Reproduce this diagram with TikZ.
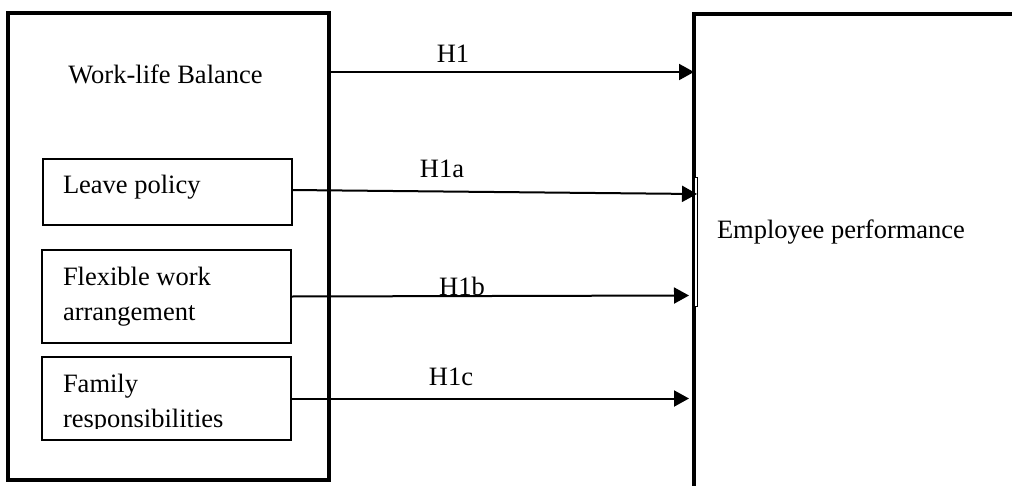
\documentclass[tikz,border=0pt]{standalone}
\usepackage{fontspec}
\setmainfont{Liberation Serif}
\usetikzlibrary{arrows.meta}
\begin{document}
\begin{tikzpicture}[x=1pt,y=-1pt,
  every node/.style={font=\fontsize{26.5}{35}\selectfont, inner sep=0pt, outer sep=0pt},
  outerbox/.style={draw, line width=4pt, rectangle, fill=none},
  innerbox/.style={draw, line width=1.5pt, rectangle},
  lbl/.style={anchor=base},
  txt/.style={anchor=base west},
  arr/.style={line width=2pt, -{Triangle[length=15pt,width=16pt]}}]
\clip (0,0) rectangle (1012,485);
\fill[white] (0,0) rectangle (1012,485);

% independent variable block
\node[outerbox, minimum width=321pt, minimum height=467pt] (wlb) at (168.5,246.5) {};
\node[lbl] (wlbtext) at (165.5,83) {Work-life Balance};

\node[innerbox, minimum width=249pt, minimum height=66pt] (lp) at (167.5,192) {};
\node[txt] (lptext) at (63,193) {Leave policy};

\node[innerbox, minimum width=249pt, minimum height=93pt] (fw) at (166.5,296.5) {};
\node[txt] (fwtext1) at (63,285) {Flexible work};
\node[txt] (fwtext2) at (63,320) {arrangement};

\node[innerbox, minimum width=249pt, minimum height=83pt] (fr) at (166.5,398.5) {};
\node[txt] (frtext1) at (63,392) {Family};
\begin{scope}
  \clip (42,357) rectangle (291,428.5);
  \node[txt] (frtext2) at (63,427) {responsibilities};
\end{scope}

% dependent variable block
\node[outerbox, minimum width=400pt, minimum height=520pt] (perf) at (894,274) {};
\node[txt] (perftext) at (717,238) {Employee performance};
\filldraw[fill=white, draw=black, line width=0.5pt] (694.5,177) rectangle (697.5,306);

% hypothesised paths
\coordinate (h1s) at ([yshift=-59pt]wlb.north east);
\draw[arr] (h1s) -- (h1s -| perf.west);
\draw[arr] ([yshift=2pt]lp.east) -- ([xshift=3pt,yshift=-2pt]lp.east -| perf.west);
\draw[arr] (fw.east) -- ([xshift=-5pt,yshift=1pt]fw.east -| perf.west);
\draw[arr] (fr.east) -- ([xshift=-5pt]fr.east -| perf.west);

\node[lbl] (h1) at (453,62) {H1};
\node[lbl] (h1a) at (442,177) {H1a};
\node[lbl] (h1b) at (462,295) {H1b};
\node[lbl] (h1c) at (451,385) {H1c};
\end{tikzpicture}
\end{document}
